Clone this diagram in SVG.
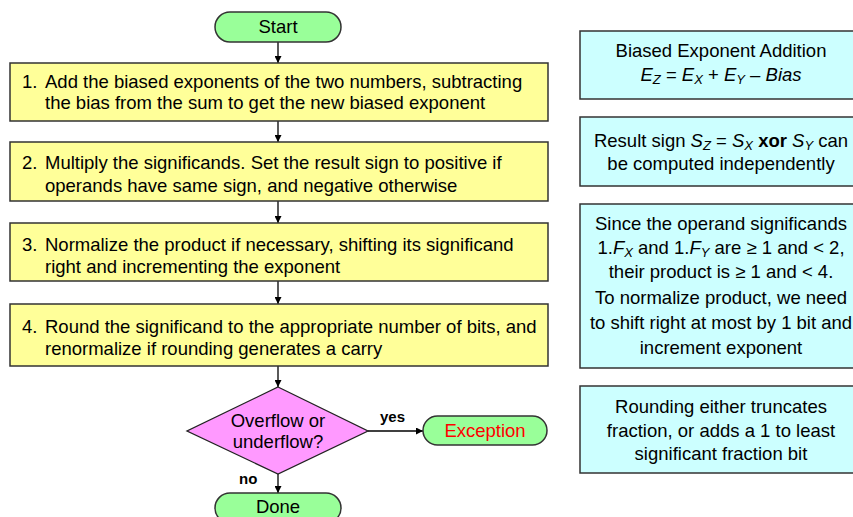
<svg xmlns="http://www.w3.org/2000/svg" width="853" height="517" viewBox="0 0 853 517">
<style>
text{font-family:"Liberation Sans",Arial,sans-serif;font-size:18.5px;fill:#000}
.c{text-anchor:middle}
.b{font-weight:bold;font-size:15px}
.i{font-style:italic}
.s{font-size:13px;font-style:italic}
.step{fill:#FFFF99;stroke:#333;stroke-width:1.5}
.note{fill:#CCFFFF;stroke:#333;stroke-width:1.5}
.term{fill:#99FF99;stroke:#333;stroke-width:1.5}
.dec{fill:#FF99FF;stroke:#222;stroke-width:1.3}
.ln{stroke:#000;stroke-width:1.3;fill:none;marker-end:url(#ah)}
</style>
<defs>
<marker id="ah" viewBox="0 0 10 10" refX="10" refY="5" markerWidth="7" markerHeight="7" markerUnits="userSpaceOnUse" orient="auto">
<path d="M0,0 L10,5 L0,10 z" fill="#000"/>
</marker>
</defs>
<rect width="853" height="517" fill="#fff"/>
<g id="connectors">
<line class="ln" x1="278" y1="42" x2="278" y2="63"/>
<line class="ln" x1="278" y1="121" x2="278" y2="142"/>
<line class="ln" x1="278" y1="201" x2="278" y2="223"/>
<line class="ln" x1="278" y1="281" x2="278" y2="304"/>
<line class="ln" x1="278" y1="366" x2="278" y2="387"/>
<line class="ln" x1="368" y1="431" x2="423" y2="431"/>
<line class="ln" x1="278" y1="474" x2="278" y2="493"/>
<text class="b" x="380" y="422">yes</text>
<text class="b" x="239" y="484">no</text>
</g>
<g id="start">
<rect class="term" x="215" y="12" width="126" height="30" rx="15"/>
<text class="c" x="278" y="33">Start</text>
</g>
<g id="step1">
<rect class="step" x="10" y="63" width="538" height="58"/>
<text x="22" y="88">1.</text><text x="45" y="88">Add the biased exponents of the two numbers, subtracting</text>
<text x="45" y="109">the bias from the sum to get the new biased exponent</text>
</g>
<g id="step2">
<rect class="step" x="10" y="142" width="538" height="59"/>
<text x="22" y="169">2.</text><text x="45" y="169">Multiply the significands. Set the result sign to positive if</text>
<text x="45" y="192">operands have same sign, and negative otherwise</text>
</g>
<g id="step3">
<rect class="step" x="10" y="223" width="538" height="58"/>
<text x="22" y="251">3.</text><text x="45" y="251">Normalize the product if necessary, shifting its significand</text>
<text x="45" y="273">right and incrementing the exponent</text>
</g>
<g id="step4">
<rect class="step" x="10" y="304" width="538" height="62"/>
<text x="22" y="333">4.</text><text x="45" y="333">Round the significand to the appropriate number of bits, and</text>
<text x="45" y="355">renormalize if rounding generates a carry</text>
</g>
<g id="decision">
<polygon class="dec" points="278,387 368,431 278,474 187,431"/>
<text class="c" x="278" y="427">Overflow or</text>
<text class="c" x="278" y="448">underflow?</text>
</g>
<g id="exception">
<rect class="term" x="423" y="416" width="124" height="29" rx="14.5"/>
<text class="c" x="485" y="437" style="fill:#FF0000">Exception</text>
</g>
<g id="done">
<rect class="term" x="215" y="493" width="126" height="30" rx="15"/>
<text class="c" x="278" y="513">Done</text>
</g>
<g id="note1">
<rect class="note" x="580" y="31" width="282" height="68"/>
<text class="c" x="721" y="57">Biased Exponent Addition</text>
<text class="c" x="721" y="81"><tspan class="i">E</tspan><tspan class="s" dy="3">Z</tspan><tspan dy="-3"> = </tspan><tspan class="i">E</tspan><tspan class="s" dy="3">X</tspan><tspan dy="-3"> + </tspan><tspan class="i">E</tspan><tspan class="s" dy="3">Y</tspan><tspan dy="-3"> – </tspan><tspan class="i">Bias</tspan></text>
</g>
<g id="note2">
<rect class="note" x="580" y="117" width="282" height="69"/>
<text class="c" x="721" y="147">Result sign <tspan class="i">S</tspan><tspan class="s" dy="3">Z</tspan><tspan dy="-3"> = </tspan><tspan class="i">S</tspan><tspan class="s" dy="3">X</tspan><tspan dy="-3" font-weight="bold"> xor </tspan><tspan class="i">S</tspan><tspan class="s" dy="3">Y</tspan><tspan dy="-3"> can</tspan></text>
<text class="c" x="721" y="170">be computed independently</text>
</g>
<g id="note3">
<rect class="note" x="580" y="204" width="282" height="164"/>
<text class="c" x="721" y="230">Since the operand significands</text>
<text class="c" x="721" y="254">1.<tspan class="i">F</tspan><tspan class="s" dy="3">X</tspan><tspan dy="-3"> and 1.</tspan><tspan class="i">F</tspan><tspan class="s" dy="3">Y</tspan><tspan dy="-3"> are ≥ 1 and &lt; 2,</tspan></text>
<text class="c" x="721" y="278">their product is ≥ 1 and &lt; 4.</text>
<text class="c" x="721" y="304">To normalize product, we need</text>
<text class="c" x="721" y="329">to shift right at most by 1 bit and</text>
<text class="c" x="721" y="354">increment exponent</text>
</g>
<g id="note4">
<rect class="note" x="580" y="386" width="282" height="87"/>
<text class="c" x="721" y="413">Rounding either truncates</text>
<text class="c" x="721" y="437">fraction, or adds a 1 to least</text>
<text class="c" x="721" y="460">significant fraction bit</text>
</g>
</svg>
